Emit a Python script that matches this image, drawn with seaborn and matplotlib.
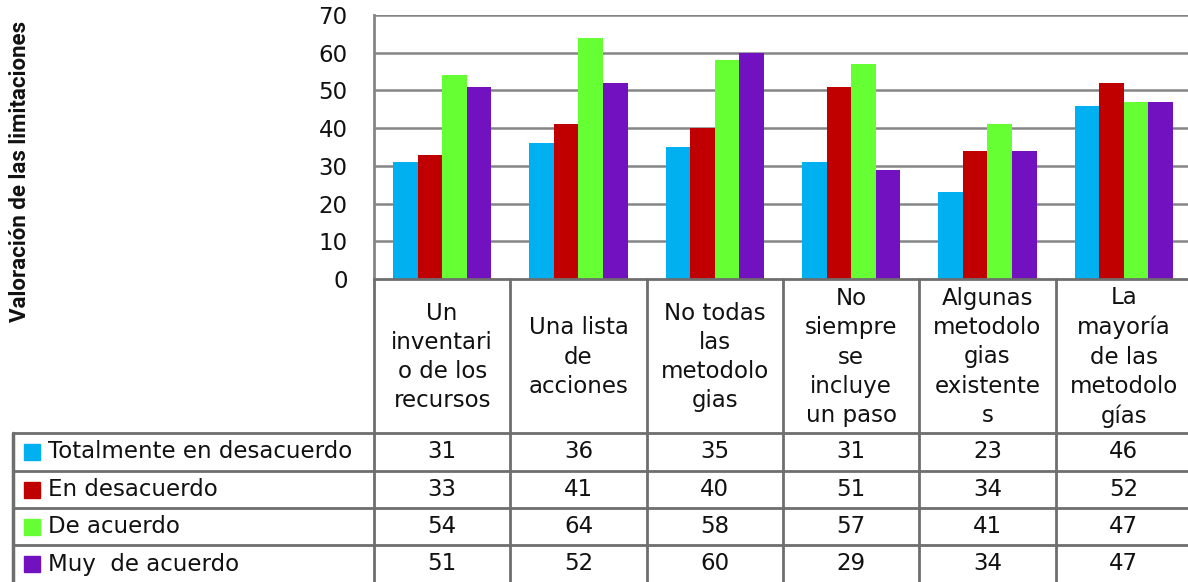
import matplotlib
matplotlib.use("Agg")
import matplotlib.pyplot as plt
import matplotlib.transforms as mtransforms
from matplotlib.lines import Line2D
from matplotlib.patches import Rectangle
import pandas as pd
import seaborn as sns

# data
categories = ["Un\ninventari\no de los\nrecursos", "Una lista\nde\nacciones",
              "No todas\nlas\nmetodolo\ngias", "No\nsiempre\nse\nincluye\nun paso",
              "Algunas\nmetodolo\ngias\nexistente\ns", "La\nmayoría\nde las\nmetodolo\ngías"]
series = ["Totalmente en desacuerdo", "En desacuerdo", "De acuerdo", "Muy  de acuerdo"]
totalmente = [31, 36, 35, 31, 23, 46]
desacuerdo = [33, 41, 40, 51, 34, 52]
acuerdo = [54, 64, 58, 57, 41, 47]
muy_acuerdo = [51, 52, 60, 29, 34, 47]
colors = ["#00B0F0", "#C00000", "#66FF33", "#7111BF"]

values = [totalmente, desacuerdo, acuerdo, muy_acuerdo]
rows = []
for s, vals in zip(series, values):
    for c, v in zip(categories, vals):
        rows.append({"cat": c, "serie": s, "val": v})
df = pd.DataFrame(rows)

sns.set_style("white")
plt.rcParams["font.family"] = ["DejaVu Sans"]

W, H = 1188, 582
FS = 16.5
fig = plt.figure(figsize=(W / 100, H / 100), dpi=100)
ax = fig.add_axes([374 / W, 1 - 279 / H, (1192 - 374) / W, (279 - 15) / H])

sns.barplot(data=df, x="cat", y="val", hue="serie", palette=colors, width=0.72,
            saturation=1, linewidth=0, legend=False, ax=ax, zorder=3)

grid_c = "#858585"
ax.set_ylim(0, 70)
ax.set_xlim(-0.5, 5.5)
ax.set_yticks(range(0, 71, 10))
for yv in range(10, 71, 10):
    ax.axhline(yv, color=grid_c, lw=1.8, zorder=1)
ax.tick_params(axis="y", length=0, pad=19, labelsize=FS, labelcolor="#111111")
ax.set_xticks([])
ax.set_xlabel("")
ax.set_ylabel("")
for side in ["top", "right", "bottom"]:
    ax.spines[side].set_visible(False)
ax.spines["left"].set_color(grid_c)
ax.spines["left"].set_linewidth(2)

fig.text(20 / W, 1 - 171 / H, "Valoración de las limitaciones", rotation=90,
         ha="center", va="center", fontsize=16, fontweight="bold",
         family=["Roboto", "DejaVu Sans"], color="#111111")

# data table below the axis
tr = mtransforms.blended_transform_factory(ax.transData, fig.transFigure)
def fy(py):
    return 1 - py / H

line_c = "#6E6E6E"
row_lines = [279, 433, 471, 508, 545]
for i, py in enumerate(row_lines):
    if i == 0:
        fig.add_artist(Line2D([-0.5, 5.6], [fy(py)] * 2, transform=tr, color=line_c, lw=2))
    else:
        fig.add_artist(Line2D([13 / W, 1.0], [fy(py)] * 2, transform=fig.transFigure,
                              color=line_c, lw=2))
for k in range(6):
    fig.add_artist(Line2D([k - 0.5] * 2, [fy(279), 0], transform=tr, color=line_c, lw=2))
fig.add_artist(Line2D([13 / W] * 2, [fy(433), 0], transform=fig.transFigure,
                      color=line_c, lw=2.5))

for k, c in enumerate(categories):
    fig.text(k, fy(357), c, transform=tr, ha="center", va="center",
             fontsize=FS, linespacing=1.35, color="#111111")

row_centers = [452, 489.5, 526.5, 564]
for r, (s, vals, col) in enumerate(zip(series, values, colors)):
    yc = row_centers[r]
    fig.add_artist(Rectangle((24 / W, fy(yc + 8)), 16 / W, 16 / H,
                             transform=fig.transFigure, color=col))
    fig.text(48 / W, fy(yc), s, ha="left", va="center", fontsize=FS, color="#111111")
    for k, v in enumerate(vals):
        fig.text(k, fy(yc), str(v), transform=tr, ha="center", va="center",
                 fontsize=FS, color="#111111")

fig.savefig("out.png", dpi=100)
